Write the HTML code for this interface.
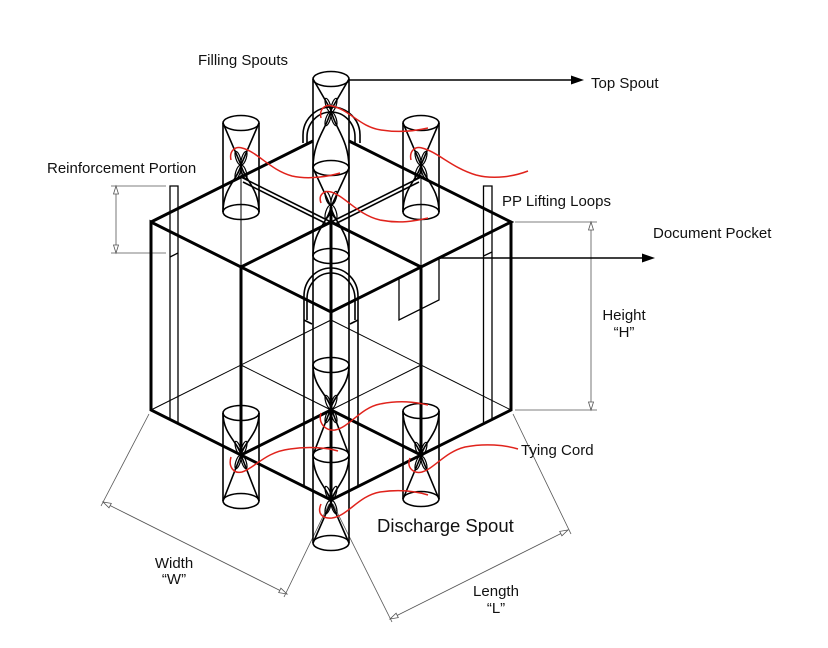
<!DOCTYPE html>
<html><head><meta charset="utf-8"><style>
html,body{margin:0;padding:0;background:#fff;}
svg{display:block;}
text{font-family:"Liberation Sans",Arial,sans-serif;fill:#111;}
</style></head><body>
<svg width="828" height="648" viewBox="0 0 828 648" xmlns="http://www.w3.org/2000/svg">
<defs>
<g id="tie" fill="none" stroke="#000" stroke-width="1.2">
 <ellipse cx="-3" cy="-7" rx="2.2" ry="7" transform="rotate(-18 -3 -7)"/>
 <ellipse cx="3" cy="-7" rx="2.2" ry="7" transform="rotate(18 3 -7)"/>
 <ellipse cx="-3" cy="7" rx="2.2" ry="7" transform="rotate(18 -3 7)"/>
 <ellipse cx="3" cy="7" rx="2.2" ry="7" transform="rotate(-18 3 7)"/>
</g>
</defs>
<rect width="828" height="648" fill="#fff"/>

<!-- dimension lines -->
<g stroke="#555" stroke-width="0.8" fill="none">
 <line x1="111" y1="186" x2="166" y2="186"/>
 <line x1="111" y1="253" x2="166" y2="253"/>
 <line x1="116" y1="186" x2="116" y2="253"/>
 <polygon points="116,186 113.5,194 118.5,194" fill="#fff"/>
 <polygon points="116,253 113.5,245 118.5,245" fill="#fff"/>

 <line x1="515" y1="222" x2="597" y2="222"/>
 <line x1="515" y1="410" x2="597" y2="410"/>
 <line x1="591" y1="222" x2="591" y2="410"/>
 <polygon points="591,222 588.5,230 593.5,230" fill="#fff"/>
 <polygon points="591,410 588.5,402 593.5,402" fill="#fff"/>

 <line x1="149" y1="414" x2="101" y2="506"/>
 <line x1="329" y1="504" x2="284" y2="597"/>
 <line x1="103" y1="502" x2="287" y2="594"/>
 <polygon points="103,502 109,507.8 111.3,503.4" fill="#fff"/>
 <polygon points="287,594 278.7,592.6 280.9,588.2" fill="#fff"/>

 <line x1="333" y1="504" x2="392" y2="622"/>
 <line x1="513" y1="414" x2="571" y2="534"/>
 <line x1="568" y1="530" x2="390" y2="619"/>
 <polygon points="568,530 561.9,535.8 559.7,531.4" fill="#fff"/>
 <polygon points="390,619 398.3,617.6 396.1,613.2" fill="#fff"/>
</g>

<!-- reinforcement bars -->
<g stroke="#000" stroke-width="1.3" fill="none">
 <path d="M170,419.5 L170,186 L178,186 L178,423.5"/>
 <line x1="170" y1="257" x2="178" y2="253"/>
 <path d="M483.5,424 L483.5,186 L492,186 L492,419.5"/>
 <line x1="483.5" y1="256" x2="492" y2="252"/>
 <!-- document pocket -->
 <path d="M399,278 L399,320 L439,300 L439,258"/>
</g>

<!-- thin hidden lines -->
<g stroke="#000" stroke-width="1" fill="none">
 <line x1="151" y1="410" x2="331" y2="320"/>
 <line x1="331" y1="320" x2="511" y2="410"/>
 <line x1="241" y1="365" x2="331" y2="410"/>
 <line x1="421" y1="365" x2="331" y2="410"/>
 <line x1="241" y1="165" x2="241" y2="267"/>
 <line x1="421" y1="165" x2="421" y2="267"/>
</g>
<g stroke="#000" stroke-width="1.6" fill="none">
 <line x1="241" y1="177" x2="331" y2="222"/>
 <line x1="243" y1="182" x2="327" y2="224"/>
 <line x1="421" y1="177" x2="331" y2="222"/>
 <line x1="419" y1="182" x2="335" y2="224"/>
</g>

<!-- thick edges -->
<g stroke="#000" stroke-width="3" fill="none" stroke-linejoin="miter">
 <line x1="151" y1="222" x2="313" y2="141"/>
 <path d="M349,141 L511,222 L331,312 L151,222 L151,410 L331,500 L511,410 L511,222"/>
 <line x1="331" y1="207" x2="331" y2="502"/>
 <line x1="331" y1="222" x2="241" y2="267"/>
 <line x1="331" y1="222" x2="421" y2="267"/>
 <line x1="241" y1="267" x2="241" y2="455"/>
 <line x1="421" y1="267" x2="421" y2="456"/>
 <line x1="331" y1="410" x2="241" y2="455"/>
 <line x1="331" y1="410" x2="421" y2="455"/>
</g>

<!-- spouts -->
<g stroke="#000" stroke-width="1.6" fill="none">
 <!-- central column -->
 <line x1="313" y1="79" x2="313" y2="543"/>
 <line x1="349" y1="79" x2="349" y2="543"/>
 <ellipse cx="331" cy="79" rx="18" ry="7.5"/>
 <ellipse cx="331" cy="168" rx="18" ry="7.5"/>
 <ellipse cx="331" cy="256" rx="18" ry="7.5"/>
 <ellipse cx="331" cy="365" rx="18" ry="7.5"/>
 <ellipse cx="331" cy="455" rx="18" ry="7.5"/>
 <ellipse cx="331" cy="543" rx="18" ry="7.5"/>
 <!-- unit1 -->
 <path d="M313,79 L331,110 L349,79"/>
 <path d="M331,110 C328,127 313,139 313,168"/>
 <path d="M331,110 C334,127 349,139 349,168"/>
 <!-- unit2 -->
 <path d="M313,168 L331,207 L349,168"/>
 <path d="M331,207 C328,222 313,231 313,256"/>
 <path d="M331,207 C334,222 349,231 349,256"/>
 <!-- unit3 -->
 <path d="M313,365 C313,387 328,395 331,408 C334,395 349,387 349,365"/>
 <path d="M313,455 L331,408 L349,455"/>
 <!-- unit4 -->
 <path d="M313,455 C313,479 328,488 331,502 C334,488 349,479 349,455"/>
 <path d="M313,543 L331,502 L349,543"/>
 <!-- upper loop arches -->
 <path d="M303,143 L303,135 A28.5,28 0 0 1 360,135 L360,143"/>
 <path d="M307,144 L307,137 A24,25 0 0 1 355,137 L355,144"/>
 <!-- lower tube -->
 <path d="M304,486 L304,296 A27,28 0 0 1 358,296 L358,486"/>
 <path d="M307,320 L307,299 A24,26 0 0 1 355,299 L355,320"/>
 <line x1="304" y1="320" x2="312" y2="324"/>
 <line x1="358" y1="320" x2="350" y2="324"/>

 <!-- TL spout -->
 <line x1="223" y1="123" x2="223" y2="212"/>
 <line x1="259" y1="123" x2="259" y2="212"/>
 <ellipse cx="241" cy="123" rx="18" ry="7.5"/>
 <ellipse cx="241" cy="212" rx="18" ry="7.5"/>
 <path d="M223,123 L241,165 L259,123"/>
 <path d="M241,165 C238,179 223,188 223,212"/>
 <path d="M241,165 C244,179 259,188 259,212"/>
 <!-- TR spout -->
 <line x1="403" y1="123" x2="403" y2="212"/>
 <line x1="439" y1="123" x2="439" y2="212"/>
 <ellipse cx="421" cy="123" rx="18" ry="7.5"/>
 <ellipse cx="421" cy="212" rx="18" ry="7.5"/>
 <path d="M403,123 L421,165 L439,123"/>
 <path d="M421,165 C418,179 403,188 403,212"/>
 <path d="M421,165 C424,179 439,188 439,212"/>
 <!-- BL spout -->
 <line x1="223" y1="413" x2="223" y2="501"/>
 <line x1="259" y1="413" x2="259" y2="501"/>
 <ellipse cx="241" cy="413" rx="18" ry="7.5"/>
 <ellipse cx="241" cy="501" rx="18" ry="7.5"/>
 <path d="M223,413 C223,434 238,442 241,455 C244,442 259,434 259,413"/>
 <path d="M223,501 L241,455 L259,501"/>
 <!-- BR spout -->
 <line x1="403" y1="411" x2="403" y2="499"/>
 <line x1="439" y1="411" x2="439" y2="499"/>
 <ellipse cx="421" cy="411" rx="18" ry="7.5"/>
 <ellipse cx="421" cy="499" rx="18" ry="7.5"/>
 <path d="M403,411 C403,434 418,442 421,456 C424,442 439,434 439,411"/>
 <path d="M403,499 L421,456 L439,499"/>
</g>

<!-- ties -->
<use href="#tie" x="331" y="112"/>
<use href="#tie" x="331" y="205"/>
<use href="#tie" x="331" y="409"/>
<use href="#tie" x="331" y="500"/>
<use href="#tie" x="241" y="165"/>
<use href="#tie" x="421" y="165"/>
<use href="#tie" x="241" y="455"/>
<use href="#tie" x="421" y="456"/>

<!-- red tying cords -->
<g stroke="#e0231c" stroke-width="1.5" fill="none">
 <path d="M321,118 C319,109 325,104 332,106 C350,110 360,127 381,130 C400,133 415,131 428,128"/>
 <path d="M231,160 C229,151 235,146 242,148 C258,152 270,170 292,176 C310,180 330,176 340,173"/>
 <path d="M411,160 C409,151 415,146 422,148 C438,152 452,168 476,175 C495,180 515,176 528,171"/>
 <path d="M321,203 C318,195 324,190 331,192 C345,196 358,215 380,220 C400,224 415,221 428,218"/>
 <path d="M321,413 C318,423 325,431 335,430 C350,427 360,408 380,404 C400,400 415,402 428,405"/>
 <path d="M231,457 C228,467 234,474 242,472 C255,468 265,452 290,449 C310,446 328,448 338,451"/>
 <path d="M410,458 C406,468 414,474 422,472 C435,468 445,452 465,447 C485,443 505,445 518,449"/>
 <path d="M321,504 C317,513 322,519 332,518 C348,516 358,496 380,492 C400,489 415,491 428,495"/>
</g>

<!-- arrows -->
<g stroke="#000" stroke-width="1.4">
 <line x1="349" y1="80" x2="574" y2="80"/>
 <line x1="440" y1="258" x2="646" y2="258"/>
</g>
<polygon points="584,80 571,75.5 571,84.5" fill="#000"/>
<polygon points="655,258 642,253.5 642,262.5" fill="#000"/>

<!-- labels -->
<text x="198" y="65" font-size="15">Filling Spouts</text>
<text x="591" y="88" font-size="15">Top Spout</text>
<text x="47" y="173" font-size="15">Reinforcement Portion</text>
<text x="502" y="206" font-size="15">PP Lifting Loops</text>
<text x="653" y="238" font-size="15">Document Pocket</text>
<text x="624" y="320" font-size="15" text-anchor="middle">Height</text>
<text x="624" y="337" font-size="15" text-anchor="middle">“H”</text>
<text x="521" y="455" font-size="15">Tying Cord</text>
<text x="377" y="532" font-size="18.5">Discharge Spout</text>
<text x="174" y="568" font-size="15" text-anchor="middle">Width</text>
<text x="174" y="584" font-size="15" text-anchor="middle">“W”</text>
<text x="496" y="596" font-size="15" text-anchor="middle">Length</text>
<text x="496" y="613" font-size="15" text-anchor="middle">“L”</text>
</svg>
</body></html>
